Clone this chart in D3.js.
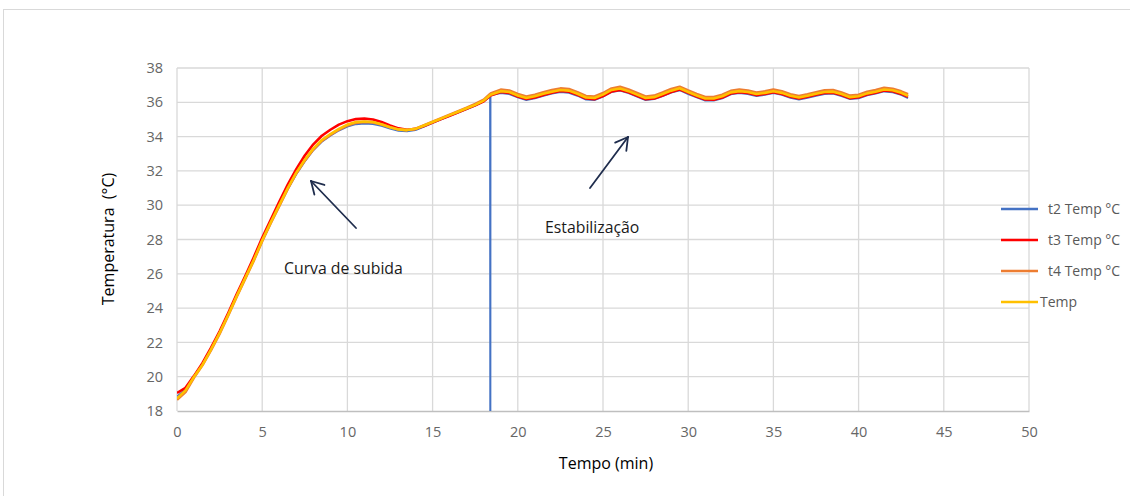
<!DOCTYPE html>
<html>
<head>
<meta charset="utf-8">
<script src="https://cdn.jsdelivr.net/npm/d3@7"></script>
<style>
  html, body { margin: 0; padding: 0; background: #fff; }
  svg { display: block; font-family: "Open Sans", "Noto Sans", sans-serif; }
</style>
</head>
<body>
<svg id="chart" width="1130" height="496"></svg>
<script>
// Time of each reading (min)
const tempo = [
  0, 0.5, 1, 1.5, 2, 2.5, 3, 3.5, 4, 4.5, 5, 5.5, 6, 6.5, 7, 7.5, 8, 8.5, 9, 9.5,
  10, 10.5, 11, 11.5, 12, 12.5, 13, 13.5, 14, 14.5, 15, 15.5, 16, 16.5, 17, 17.5, 18,
  18.37, 18.39, 18.4,
  19, 19.5, 20, 20.5, 21, 21.5, 22, 22.5, 23, 23.5, 24, 24.5, 25, 25.5, 26, 26.5,
  27, 27.5, 28, 28.5, 29, 29.5, 30, 30.5, 31, 31.5, 32, 32.5, 33, 33.5, 34, 34.5,
  35, 35.5, 36, 36.5, 37, 37.5, 38, 38.5, 39, 39.5, 40, 40.5, 41, 41.5, 42, 42.5, 42.9
];

// Sensor t2 (°C) — one faulty zero reading near 18.4 min
const t2Temp = [
  18.85, 19.25, 20.05, 20.72, 21.6, 22.55, 23.6, 24.68, 25.72, 26.78, 27.9, 28.95, 29.95, 30.92, 31.8, 32.55, 33.2, 33.7, 34.05, 34.35,
  34.58, 34.72, 34.76, 34.73, 34.62, 34.47, 34.34, 34.3, 34.38, 34.58, 34.8, 35.0, 35.2, 35.4, 35.6, 35.8, 36.05,
  36.36, 0, 36.4,
  36.53, 36.48, 36.28, 36.13, 36.23, 36.38, 36.5, 36.6, 36.55, 36.38, 36.16, 36.13, 36.33, 36.6, 36.68, 36.53,
  36.33, 36.13, 36.18, 36.36, 36.56, 36.7, 36.48, 36.28, 36.1, 36.1, 36.23, 36.46, 36.53, 36.48, 36.36, 36.43,
  36.53, 36.43, 36.26, 36.16, 36.26, 36.38, 36.48, 36.5, 36.36, 36.18, 36.23, 36.4, 36.5, 36.63, 36.58, 36.43, 36.24
];

// Sensor t3 (°C)
const t3Temp = [
  19.05, 19.35, 20.05, 20.8, 21.7, 22.65, 23.7, 24.8, 25.85, 26.95, 28.1, 29.15, 30.2, 31.2, 32.1, 32.9, 33.55, 34.05, 34.4, 34.7,
  34.9, 35.02, 35.05, 35.0, 34.85, 34.65, 34.48, 34.4, 34.45, 34.62, 34.82, 35.02, 35.22, 35.42, 35.62, 35.82, 36.06,
  36.37, 36.39, 36.4,
  36.6, 36.55, 36.34, 36.19, 36.28, 36.43, 36.56, 36.66, 36.62, 36.44, 36.22, 36.18, 36.36, 36.63, 36.72, 36.58,
  36.38, 36.18, 36.22, 36.4, 36.6, 36.75, 36.55, 36.34, 36.16, 36.15, 36.28, 36.51, 36.59, 36.54, 36.42, 36.49,
  36.59, 36.49, 36.32, 36.22, 36.32, 36.44, 36.54, 36.56, 36.42, 36.24, 36.29, 36.46, 36.56, 36.69, 36.64, 36.49, 36.32
];

// Sensor t4 (°C)
const t4Temp = [
  18.65, 19.1, 19.95, 20.68, 21.55, 22.5, 23.55, 24.65, 25.7, 26.75, 27.9, 28.95, 29.95, 30.95, 31.85, 32.6, 33.25, 33.75, 34.1, 34.4,
  34.65, 34.8, 34.85, 34.82, 34.7, 34.55, 34.42, 34.38, 34.46, 34.66, 34.87, 35.07, 35.28, 35.48, 35.68, 35.9, 36.15,
  36.48, 36.5, 36.51,
  36.74, 36.69, 36.49, 36.34, 36.44, 36.59, 36.71, 36.81, 36.77, 36.59, 36.37, 36.34, 36.54, 36.81, 36.9, 36.75,
  36.54, 36.34, 36.39, 36.57, 36.78, 36.91, 36.69, 36.49, 36.31, 36.31, 36.44, 36.67, 36.75, 36.69, 36.57, 36.64,
  36.75, 36.64, 36.47, 36.37, 36.47, 36.59, 36.7, 36.71, 36.57, 36.39, 36.44, 36.61, 36.71, 36.85, 36.79, 36.64, 36.47
];

// Reference temperature (°C)
const tempRef = [
  18.72, 19.2, 20.0, 20.7, 21.6, 22.55, 23.6, 24.7, 25.75, 26.8, 27.95, 29.0, 30.0, 31.0, 31.9, 32.65, 33.3, 33.8, 34.15, 34.45,
  34.7, 34.85, 34.88, 34.85, 34.72, 34.55, 34.42, 34.38, 34.45, 34.65, 34.85, 35.05, 35.25, 35.45, 35.65, 35.85, 36.1,
  36.41, 36.43, 36.44,
  36.65, 36.6, 36.4, 36.25, 36.35, 36.5, 36.62, 36.72, 36.68, 36.5, 36.28, 36.25, 36.45, 36.72, 36.8, 36.65,
  36.45, 36.25, 36.3, 36.48, 36.68, 36.82, 36.6, 36.4, 36.22, 36.22, 36.35, 36.58, 36.65, 36.6, 36.48, 36.55,
  36.65, 36.55, 36.38, 36.28, 36.38, 36.5, 36.6, 36.62, 36.48, 36.3, 36.35, 36.52, 36.62, 36.75, 36.7, 36.55, 36.38
];

const seriesNames = ["t2 Temp °C", "t3 Temp °C", "t4 Temp °C", "Temp"];
const seriesColors = ["#4472C4", "#FF0000", "#ED7D31", "#FFC000"];
const seriesValues = [t2Temp, t3Temp, t4Temp, tempRef];

const xTicks = [0, 5, 10, 15, 20, 25, 30, 35, 40, 45, 50];
const yTicks = [18, 20, 22, 24, 26, 28, 30, 32, 34, 36, 38];

const svg = d3.select("#chart");

// outer frame
svg.append("rect")
  .attr("x", 3.5).attr("y", 9.5)
  .attr("width", 1140).attr("height", 500)
  .attr("fill", "none").attr("stroke", "#d9d9d9").attr("stroke-width", 1);

const plot = { left: 177, right: 1029, top: 68, bottom: 411 };

const x = d3.scaleLinear().domain([0, 50]).range([plot.left, plot.right]);
const y = d3.scaleLinear().domain([18, 38]).range([plot.bottom, plot.top]);

// gridlines
const grid = svg.append("g");
grid.selectAll("line.h").data(yTicks.filter(d => d > 18)).join("line")
  .attr("x1", plot.left).attr("x2", plot.right)
  .attr("y1", d => y(d)).attr("y2", d => y(d))
  .attr("stroke", "#d9d9d9").attr("stroke-width", 1.3);
grid.selectAll("line.v").data(xTicks).join("line")
  .attr("y1", plot.top).attr("y2", plot.bottom)
  .attr("x1", d => x(d)).attr("x2", d => x(d))
  .attr("stroke", "#d9d9d9").attr("stroke-width", 1.3);

// axes
const xAxis = svg.append("g")
  .attr("transform", `translate(0,${plot.bottom})`)
  .call(d3.axisBottom(x).tickValues(xTicks).tickSize(0).tickPadding(16));
xAxis.select(".domain").attr("stroke", "#bfbfbf").attr("stroke-width", 1.3);

const yAxis = svg.append("g")
  .attr("transform", `translate(${plot.left},0)`)
  .call(d3.axisLeft(y).tickValues(yTicks).tickSize(0).tickPadding(14));
yAxis.select(".domain").remove();

svg.selectAll(".tick text")
  .attr("fill", "#666666")
  .style("font-size", "14.5px")
  .style("font-family", "'Open Sans', sans-serif");

// clip for data lines
svg.append("clipPath").attr("id", "plotClip")
  .append("rect")
  .attr("x", plot.left).attr("y", plot.top - 10)
  .attr("width", plot.right - plot.left).attr("height", plot.bottom - plot.top + 10);

const line = d3.line()
  .x((d, i) => x(tempo[i]))
  .y(d => y(d));

const lines = svg.append("g").attr("clip-path", "url(#plotClip)");
seriesValues.forEach((vals, k) => {
  lines.append("path")
    .datum(vals)
    .attr("d", line)
    .attr("fill", "none")
    .attr("stroke", seriesColors[k])
    .attr("stroke-width", k === 0 ? 1.8 : 2.6)
    .attr("stroke-linejoin", "round");
});

// axis titles
svg.append("text")
  .attr("x", 606).attr("y", 469)
  .attr("text-anchor", "middle")
  .style("font-size", "16px").attr("fill", "#000")
  .text("Tempo (min)");

svg.append("text")
  .attr("transform", `translate(114,239) rotate(-90)`)
  .attr("text-anchor", "middle")
  .style("font-size", "16px").attr("fill", "#000")
  .attr("xml:space", "preserve")
  .text("Temperatura  (°C)");

// annotations
svg.append("text")
  .attr("x", 284).attr("y", 274)
  .style("font-size", "15.8px").attr("fill", "#1a1a1a")
  .text("Curva de subida");

svg.append("text")
  .attr("x", 545).attr("y", 233)
  .style("font-size", "15.8px").attr("fill", "#1a1a1a")
  .text("Estabilização");

const arrowColor = "#1f2d4d";
function arrow(x1, y1, x2, y2) {
  const g = svg.append("g")
    .attr("stroke", arrowColor).attr("stroke-width", 1.8)
    .attr("fill", "none").attr("stroke-linecap", "round");
  g.append("line").attr("x1", x1).attr("y1", y1).attr("x2", x2).attr("y2", y2);
  const ang = Math.atan2(y2 - y1, x2 - x1);
  const len = 14, spread = 0.52;
  [ang + Math.PI - spread, ang + Math.PI + spread].forEach(a => {
    g.append("line")
      .attr("x1", x2).attr("y1", y2)
      .attr("x2", x2 + len * Math.cos(a)).attr("y2", y2 + len * Math.sin(a));
  });
}
arrow(356, 228, 311, 181);
arrow(590, 188, 628, 137);

// legend
const legend = svg.append("g");
const legendY = [209, 240, 271, 302];
seriesNames.forEach((name, k) => {
  const last = k === seriesNames.length - 1;
  legend.append("line")
    .attr("x1", 1001).attr("x2", 1038)
    .attr("y1", legendY[k]).attr("y2", legendY[k])
    .attr("stroke", seriesColors[k]).attr("stroke-width", 2.4);
  legend.append("text")
    .attr("x", last ? 1040 : 1048).attr("y", legendY[k])
    .attr("dy", "0.35em")
    .style("font-size", "14px").attr("fill", "#595959")
    .text(name);
});
</script>
</body>
</html>
